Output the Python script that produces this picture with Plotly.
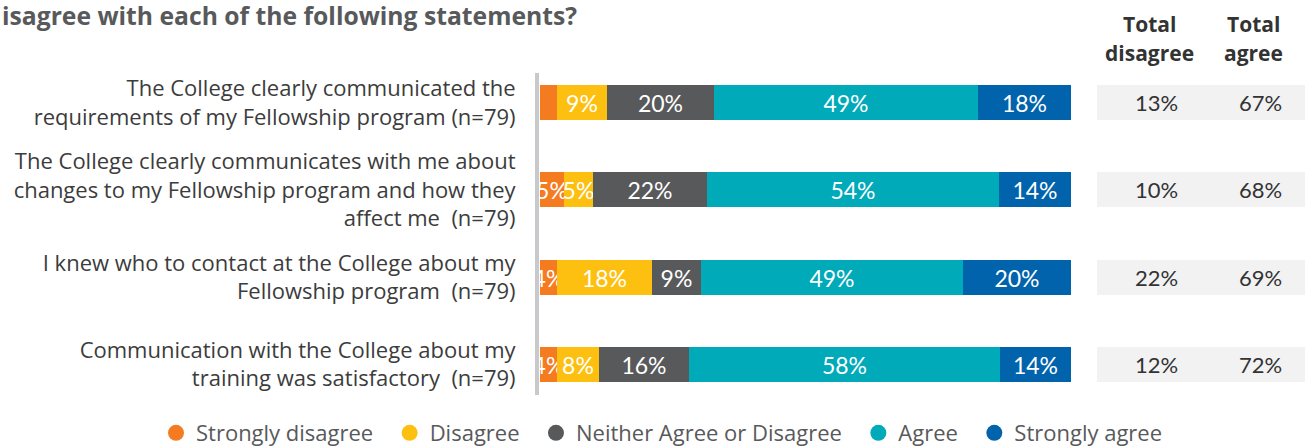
import plotly.graph_objects as go

statements = [
    "The College clearly communicated the<br>requirements of my Fellowship program (n=79)",
    "The College clearly communicates with me about<br>changes to my Fellowship program and how they<br>affect me  (n=79)",
    "I knew who to contact at the College about my<br>Fellowship program  (n=79)",
    "Communication with the College about my<br>training was satisfactory  (n=79)",
]
series_names = ["Strongly disagree", "Disagree", "Neither Agree or Disagree", "Agree", "Strongly agree"]
colors = ["#F47B20", "#FDC010", "#58595B", "#00AAB9", "#0063AB"]

strongly_disagree = [3.2, 4.6, 3.2, 3.2]
disagree = [9.4, 5.3, 17.9, 7.9]
neither = [20.2, 21.5, 9.2, 17.0]
agree = [49.6, 55.0, 49.4, 58.5]
strongly_agree = [17.6, 13.6, 20.3, 13.4]

strongly_disagree_lbl = ["", "5%", "4%", "4%"]
disagree_lbl = ["9%", "5%", "18%", "8%"]
neither_lbl = ["20%", "22%", "9%", "16%"]
agree_lbl = ["49%", "54%", "49%", "58%"]
strongly_agree_lbl = ["18%", "14%", "20%", "14%"]

total_disagree = ["13%", "10%", "22%", "12%"]
total_agree = ["67%", "68%", "69%", "72%"]

title_text = "isagree with each of the following statements?"

values = [strongly_disagree, disagree, neither, agree, strongly_agree]
labels = [strongly_disagree_lbl, disagree_lbl, neither_lbl, agree_lbl, strongly_agree_lbl]

W, H = 1307, 446
ML, MR, MT, MB = 539, 0, 73, 51
PW = W - ML - MR
PH = H - MT - MB
BAR_RIGHT = 1071
BAR_LEFT = 540

num_font = "Lato, Roboto, sans-serif"
pad = "\u00a0\u00a0"

fig = go.Figure()
for k, (name, vals, lbls, col) in enumerate(zip(series_names, values, labels, colors)):
    fig.add_trace(go.Bar(
        y=statements, x=vals, orientation="h", name=name,
        marker=dict(color=col, line=dict(width=0)),
        text=lbls, textposition="inside", insidetextanchor="middle",
        textangle=0, constraintext="none",
        textfont=dict(family=num_font, size=23, color="white"),
        width=0.40, showlegend=False, hoverinfo="skip",
    ))
    fig.add_trace(go.Scatter(
        x=[None], y=[None], mode="markers",
        name=name + (pad if k < len(series_names) - 1 else ""),
        marker=dict(symbol="circle", size=16, color=col), showlegend=True,
    ))

# totals table background
fig.add_trace(go.Bar(
    y=statements, x=[2] * len(statements), orientation="h", xaxis="x2", yaxis="y",
    marker=dict(color="#F2F2F3", line=dict(width=0)), width=0.40,
    showlegend=False, hoverinfo="skip",
))

for i, s in enumerate(statements):
    fig.add_annotation(x=0.5, y=s, xref="x2", yref="y", text=total_disagree[i], showarrow=False,
                       xshift=7, font=dict(family=num_font, size=22, color="#333333"))
    fig.add_annotation(x=1.5, y=s, xref="x2", yref="y", text=total_agree[i], showarrow=False,
                       xshift=7, font=dict(family=num_font, size=22, color="#333333"))

hdr_font = dict(family="Open Sans, sans-serif", size=21, color="#333333")
for xv, l1, l2 in [(0.5, "Total", "disagree"), (1.5, "Total", "agree")]:
    fig.add_annotation(x=xv, y=1 + (MT - 24) / PH, xref="x2", yref="paper", text="<b>%s</b>" % l1,
                       showarrow=False, font=hdr_font, yanchor="middle")
    fig.add_annotation(x=xv, y=1 + (MT - 53) / PH, xref="x2", yref="paper", text="<b>%s</b>" % l2,
                       showarrow=False, font=hdr_font, yanchor="middle")

fig.add_annotation(x=(0 - ML) / PW, y=1 + (MT - 15) / PH, xref="paper", yref="paper",
                   text="<b>%s</b>" % title_text,
                   showarrow=False, xanchor="left", yanchor="middle",
                   font=dict(family="Open Sans, sans-serif", size=24.7, color="#58595B"))

ppu = (BAR_RIGHT - BAR_LEFT) / 100.0
x0 = -(BAR_LEFT - ML) / ppu

fig.update_layout(
    width=W, height=H,
    margin=dict(l=ML, r=MR, t=MT, b=MB, pad=0, autoexpand=False),
    paper_bgcolor="white", plot_bgcolor="white",
    barmode="stack", bargap=0,
    showlegend=True,
    legend=dict(orientation="h", xref="paper", yref="paper",
                x=(156 - ML) / PW, xanchor="left",
                y=(H - MB - 433) / PH, yanchor="middle",
                bgcolor="rgba(0,0,0,0)",
                font=dict(family="Open Sans, sans-serif", size=22, color="#58595B"),
                itemclick=False, itemdoubleclick=False, traceorder="normal"),
    xaxis=dict(domain=[0, (BAR_RIGHT - ML) / PW], range=[x0, 100], showgrid=False, zeroline=False,
               showticklabels=False, showline=False, fixedrange=True),
    xaxis2=dict(domain=[(1097 - ML) / PW, (1305 - ML) / PW], range=[0, 2], anchor="y", showgrid=False,
                zeroline=False, showticklabels=False, showline=False, fixedrange=True),
    yaxis=dict(type="category", categoryorder="array", categoryarray=statements,
               range=[3.35, -0.34], showgrid=False, zeroline=False,
               showline=True, linecolor="#C8C9CB", linewidth=4,
               ticks="", ticklabelstandoff=15,
               tickfont=dict(family="Open Sans, sans-serif", size=22, color="#3C3C3C"),
               fixedrange=True),
)

fig.write_html("out.html")
